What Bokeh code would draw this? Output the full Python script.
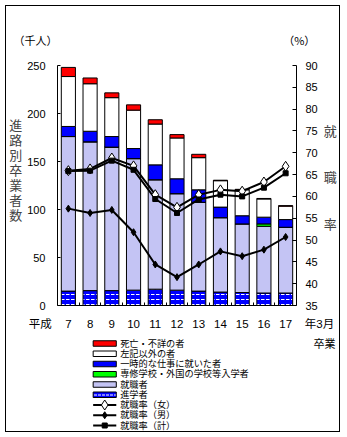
from bokeh.plotting import figure
from bokeh.layouts import column
from bokeh.models import (Range1d, LinearAxis, FixedTicker, ColumnDataSource)
from bokeh.core.properties import value
from bokeh.embed import file_html
from bokeh.resources import INLINE

# ---- data ----
years = [7, 8, 9, 10, 11, 12, 13, 14, 15, 16, 17]
year_labels = ["7", "8", "9", "10", "11", "12", "13", "14", "15", "16", "17"]
shingaku = [15, 15.5, 15.5, 16, 17, 16, 15, 14, 13.5, 13, 13]          # 進学者
shushoku = [161, 155, 149.5, 137, 114, 100.5, 92.5, 77.5, 71.5, 69.5, 68.5]  # 就職者
senshu = [0, 0, 0, 0, 0, 0, 0, 0, 0, 2.5, 0]                            # 専修学校・外国の学校等入学者
ichiji = [10.5, 11, 11, 10.5, 15.5, 15.5, 13, 11, 8.5, 7, 8]            # 一時的な仕事に就いた者
sonota = [52, 49.5, 40.5, 40, 42.5, 42.5, 33.5, 27.5, 27, 19, 14]       # 左記以外の者
shibo = [9.5, 6, 5, 5.5, 4.5, 3.5, 3.5, 0.5, 0.5, 0.5, 0.5]             # 死亡・不詳の者
rate_f = [65.9, 66.3, 68.8, 67.0, 60.4, 57.5, 60.4, 61.5, 61.2, 63.3, 66.9]  # 就職率（女）
rate_m = [57.2, 56.2, 56.9, 51.8, 44.4, 41.5, 44.4, 47.4, 46.3, 47.8, 50.7]  # 就職率（男）
rate_t = [65.8, 65.9, 68.2, 66.1, 59.4, 56.2, 59.3, 60.4, 60.0, 62.0, 65.3]  # 就職率（計）

left_ticks = [0, 50, 100, 150, 200, 250]
right_ticks = [35, 40, 45, 50, 55, 60, 65, 70, 75, 80, 85, 90]
left_unit = "（千人）"
right_unit = "（%）"
era_label = "平成"
end_label = "年3月"
end_label2 = "卒業"
left_title = "進路別卒業者数"
right_title = "就職率"
legend_labels = ["死亡・不詳の者", "左記以外の者", "一時的な仕事に就いた者",
                 "専修学校・外国の学校等入学者", "就職者", "進学者",
                 "就職率（女）", "就職率（男）", "就職率（計）"]

W = 333
H1 = 330
H2 = 95
FL, FR, FT, FB = 46, 294, 59, 299   # frame edges in main canvas px
SP = "\u3000"
MIX = "Liberation Sans, Noto Sans CJK JP"
JPFONT = "Noto Sans CJK JP"
NUMFONT = "Liberation Sans"

C_RED, C_WHITE, C_BLUE, C_GREEN, C_LAV = "#FF0000", "#FFFFFF", "#0000FF", "#00FF00", "#C4C4F4"
HATCH = dict(hatch_pattern="horizontal_dash", hatch_color="white", hatch_scale=5, hatch_weight=1)

p = figure(width=W, height=H1, output_backend="svg", toolbar_location=None,
           x_range=Range1d(6.5, 17.5), y_range=Range1d(0, 250),
           min_border_left=FL, min_border_right=W - FR, min_border_top=FT,
           min_border_bottom=H1 - FB)
p.outline_line_color = None
p.grid.visible = False
p.background_fill_color = "white"
p.border_fill_color = "white"
p.extra_y_ranges = {"pct": Range1d(35, 90)}

# bottom axis: years plus era / suffix labels at the frame edges
xticks = [6.5] + years + [17.5]
p.xaxis.ticker = FixedTicker(ticks=xticks, minor_ticks=[y + 0.5 for y in years[:-1]])
ov = {y: s for y, s in zip(years, year_labels)}
ov[6.5] = era_label + SP * 3
ov[17.5] = SP * 4 + end_label
p.xaxis.major_label_overrides = ov
xa = p.xaxis[0]
xa.axis_line_color = "black"
xa.major_label_text_font = MIX
xa.major_label_text_font_size = "11.5px"
xa.major_label_text_color = "black"
xa.major_tick_line_color = None
xa.minor_tick_line_color = "black"
xa.minor_tick_in = 3
xa.minor_tick_out = 0
xa.major_label_standoff = 6

# left axis
ya = p.yaxis[0]
ya.ticker = FixedTicker(ticks=left_ticks)
ya.axis_line_color = "black"
ya.major_label_text_font = NUMFONT
ya.major_label_text_font_size = "11px"
ya.major_label_text_color = "black"
ya.minor_tick_line_color = None
ya.major_tick_in = 3
ya.major_tick_out = 0
ya.major_tick_line_color = "black"
ya.major_label_standoff = 12
ya.axis_label = "\n".join(list(left_title) + [SP, SP])
ya.axis_label_orientation = "horizontal"
ya.axis_label_text_font = MIX
ya.axis_label_text_font_style = "normal"
ya.axis_label_text_font_size = "13px"
ya.axis_label_text_line_height = 1.0
ya.axis_label_standoff = 2

# right axis
rax = LinearAxis(y_range_name="pct", ticker=FixedTicker(ticks=right_ticks))
rax.axis_line_color = "black"
rax.major_tick_in = 4
rax.major_tick_out = 0
rax.major_tick_line_color = "black"
rax.minor_tick_line_color = None
rax.major_label_text_font = NUMFONT
rax.major_label_text_font_size = "11px"
rax.major_label_text_color = "black"
rax.major_label_standoff = 9
rax.axis_label = "\n".join([right_title[0], SP, SP, right_title[1], SP, SP, right_title[2], SP])
rax.axis_label_orientation = "horizontal"
rax.axis_label_text_font = MIX
rax.axis_label_text_font_style = "normal"
rax.axis_label_text_font_size = "13px"
rax.axis_label_text_line_height = 1.03
rax.axis_label_standoff = 3
p.add_layout(rax, "right")

# top axis carrying the unit labels
tax = LinearAxis(ticker=FixedTicker(ticks=[6.5, 17.5]),
                 major_label_overrides={6.5: left_unit + SP * 4 + "\u2002",
                                        17.5: SP + right_unit})
tax.axis_line_color = None
tax.major_tick_line_color = None
tax.minor_tick_line_color = None
tax.major_label_text_font = JPFONT
tax.major_label_text_font_size = "11px"
tax.major_label_text_color = "black"
tax.major_label_standoff = 12
p.add_layout(tax, "above")

# stacked bars
src = ColumnDataSource(dict(x=years, shingaku=shingaku, shushoku=shushoku, senshu=senshu,
                            ichiji=ichiji, sonota=sonota, shibo=shibo))
names = ["shingaku", "shushoku", "senshu", "ichiji", "sonota", "shibo"]
colors = [C_BLUE, C_LAV, C_GREEN, C_BLUE, C_WHITE, C_RED]
bar_rs = p.vbar_stack(names, x="x", width=0.65, source=src, color=colors,
                      line_color="black", line_width=1)
for k, v in HATCH.items():
    setattr(bar_rs[0].glyph, k, v)

# rate lines
line_kw = dict(line_color="black", line_width=2)
mk_f = dict(marker="diamond", size=10, fill_color="white", line_color="black", line_width=1)
mk_t = dict(marker="square", size=5, fill_color="black", line_color="black")
mk_m = dict(marker="diamond", size=7, fill_color="black", line_color="black")
p.line(years, rate_f, y_range_name="pct", **line_kw)
p.line(years, rate_t, y_range_name="pct", **line_kw)
p.line(years, rate_m, y_range_name="pct", **line_kw)
p.scatter(years, rate_f, y_range_name="pct", **mk_f)
p.scatter(years, rate_t, y_range_name="pct", **mk_t)
p.scatter(years, rate_m, y_range_name="pct", **mk_m)

# ---- legend panel: second figure, frame aligned with the main one (pixel units) ----
q = figure(width=W, height=H2, output_backend="svg", toolbar_location=None,
           x_range=Range1d(FL, FR), y_range=Range1d(0, H2),
           x_axis_type=None, y_axis_type=None,
           min_border_left=FL, min_border_right=W - FR, min_border_top=0, min_border_bottom=0)
q.outline_line_color = None
q.grid.visible = False
q.border_fill_color = "white"
q.background_fill_color = "white"

# right-side axis of the legend panel carries the second line of the year suffix
qax = LinearAxis(ticker=FixedTicker(ticks=[H2 - 5]), major_label_overrides={H2 - 5: end_label2})
qax.axis_line_color = None
qax.major_tick_line_color = None
qax.minor_tick_line_color = None
qax.major_label_text_font = MIX
qax.major_label_text_font_size = "11px"
qax.major_label_text_color = "black"
qax.major_label_standoff = 11
q.add_layout(qax, "right")

ROW0, STEP, GX0, GX1, SH = 7, 10.25, 83, 107, 5.5
rows_y = [H2 - (ROW0 + i * STEP) for i in range(len(legend_labels))]
sw_cols = [C_RED, C_WHITE, C_BLUE, C_GREEN, C_LAV, C_BLUE]
for i, col in enumerate(sw_cols):
    r = q.quad(left=[GX0], right=[GX1], top=[rows_y[i] + SH / 2], bottom=[rows_y[i] - SH / 2],
               fill_color=col, line_color="black", line_width=1)
    if i == 5:
        for k, v in HATCH.items():
            setattr(r.glyph, k, v)
        r.glyph.hatch_scale = 4
for j, mk in enumerate((mk_f, mk_m, mk_t)):
    yy = rows_y[6 + j]
    q.line([GX0, GX1], [yy, yy], **line_kw)
    q.scatter([(GX0 + GX1) / 2], [yy], **mk)
q.text(x=[GX1 + 4] * len(legend_labels), y=rows_y, text=legend_labels,
       text_font=value(MIX), text_font_size="9.2px", text_align="left",
       text_baseline="middle", text_color="black")

layout = column(p, q, spacing=0,
                styles={"border": "1px solid black", "margin": "5px 0 0 5px"})

open("out.html", "w").write(file_html(layout, INLINE))
